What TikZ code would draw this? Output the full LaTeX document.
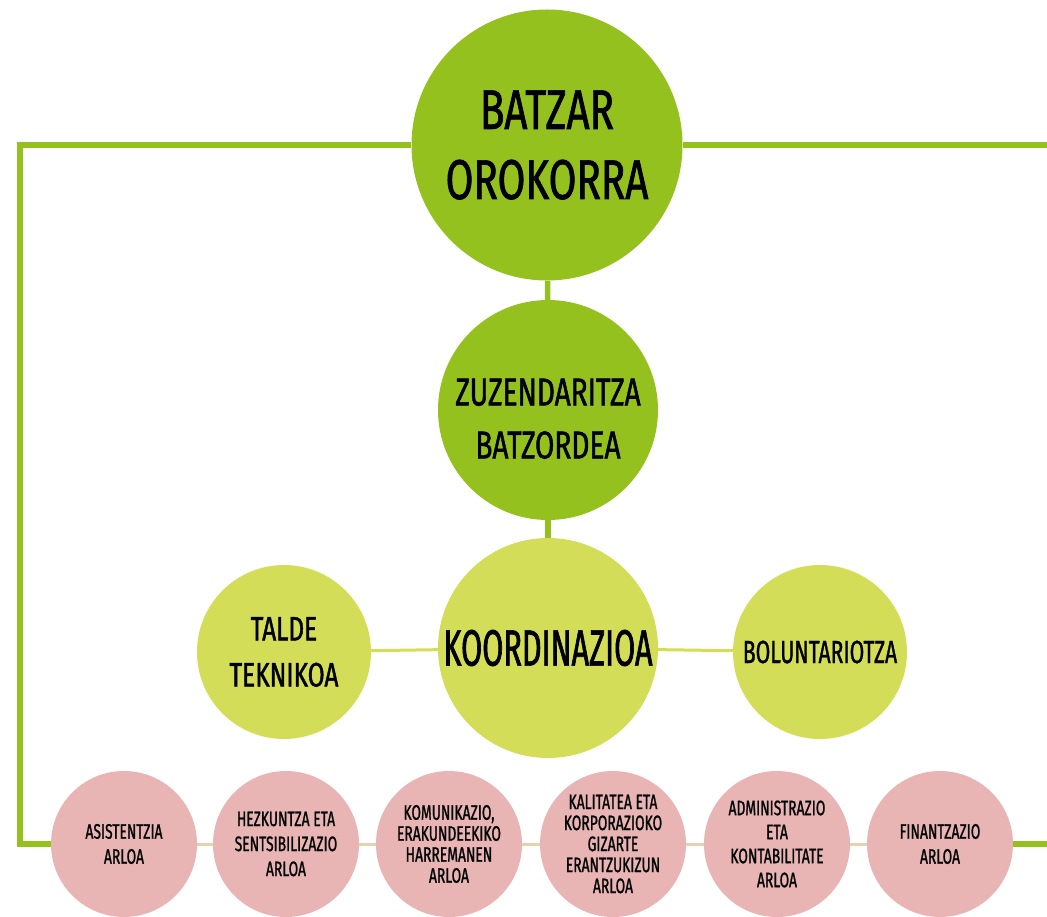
\documentclass[tikz,border=0pt]{standalone}
\usepackage{fontspec}
\setmainfont{Fira Sans}[FakeStretch=0.72, FakeBold=1.2]
\newfontfamily\estu{Fira Sans}[FakeStretch=0.6, FakeBold=1.2]
\newfontfamily\ertain{Fira Sans}[FakeStretch=0.66, FakeBold=1]
\usepackage{tikz}
\usetikzlibrary{shapes.geometric, backgrounds}
\definecolor{verde}{RGB}{149,193,31}
\definecolor{lima}{RGB}{212,221,87}
\definecolor{arrosa}{RGB}{232,181,180}
\definecolor{beige}{RGB}{228,210,176}
\tikzstyle{organo} = [circle, fill=verde, inner sep=0pt, align=center]
\tikzstyle{koord} = [circle, fill=lima, inner sep=0pt, align=center]
\tikzstyle{arloa} = [circle, fill=arrosa, minimum size=146pt, inner sep=-15pt, align=center, font=\ertain\fontsize{21}{25}\selectfont]
\tikzstyle{lerro} = [line width=5.5pt, draw=verde]
\tikzstyle{lerrohori} = [line width=3pt, draw=lima]
\tikzstyle{lerroarrosa} = [line width=3pt, draw=beige]

\begin{document}
\begin{tikzpicture}[x=1pt,y=-1pt]
\useasboundingbox (0,0) rectangle (1047,917);
\node[organo, minimum size=271pt, font=\fontsize{56}{70}\selectfont] (batzar) at (547,145) {BATZAR\\OROKORRA};
\node[organo, minimum size=220pt, font=\fontsize{39}{53}\selectfont, text height=97pt, text depth=0pt] (zuzen) at (548,410) {ZUZENDARITZA\\BATZORDEA};
\node[koord, minimum size=220pt, inner sep=-10pt, font=\estu\fontsize{51}{60}\selectfont] (koord) at (548,648) {KOORDINAZIOA};
\node[koord, minimum size=174pt, font=\fontsize{34}{46}\selectfont] (talde) at (284,652) {TALDE\\TEKNIKOA};
\node[koord, minimum size=174pt, font=\ertain\fontsize{32}{40}\selectfont] (bolun) at (820,652) {BOLUNTARIOTZA};
\node[arloa] (asist) at (124,844) {ASISTENTZIA\\ARLOA};
\node[arloa] (hezk) at (286,844) {HEZKUNTZA ETA\\SENTSIBILIZAZIO\\ARLOA};
\node[arloa, font=\ertain\fontsize{21}{21}\selectfont] (komun) at (449,844) {KOMUNIKAZIO,\\ERAKUNDEEKIKO\\HARREMANEN\\ARLOA};
\node[arloa, font=\ertain\fontsize{21}{21}\selectfont] (kalit) at (613,844) {KALITATEA ETA\\KORPORAZIOKO\\GIZARTE\\ERANTZUKIZUN\\ARLOA};
\node[arloa, font=\ertain\fontsize{21}{24}\selectfont] (admin) at (777,844) {ADMINISTRAZIO\\ETA\\KONTABILITATE\\ARLOA};
\node[arloa] (finan) at (940,844) {FINANTZAZIO\\ARLOA};
\coordinate (nw) at (20,145);
\coordinate (ne) at (1047,145);
\coordinate (sw) at (20,844);
\coordinate (se) at (1047,844);
\begin{scope}[on background layer]
\draw[lerro] (batzar) -- (nw) -- (sw) -- (asist);
\draw[lerro] (batzar) -- (ne);
\draw[lerro] (finan) -- (se);
\draw[lerro] (batzar) -- (zuzen);
\draw[lerro] (zuzen) -- (koord);
\draw[lerrohori] (talde) -- (koord);
\draw[lerrohori] (koord) -- (bolun);
\foreach \a/\b in {asist/hezk, hezk/komun, komun/kalit, kalit/admin, admin/finan}
  \draw[lerroarrosa] (\a) -- (\b);
\end{scope}
\end{tikzpicture}
\end{document}
